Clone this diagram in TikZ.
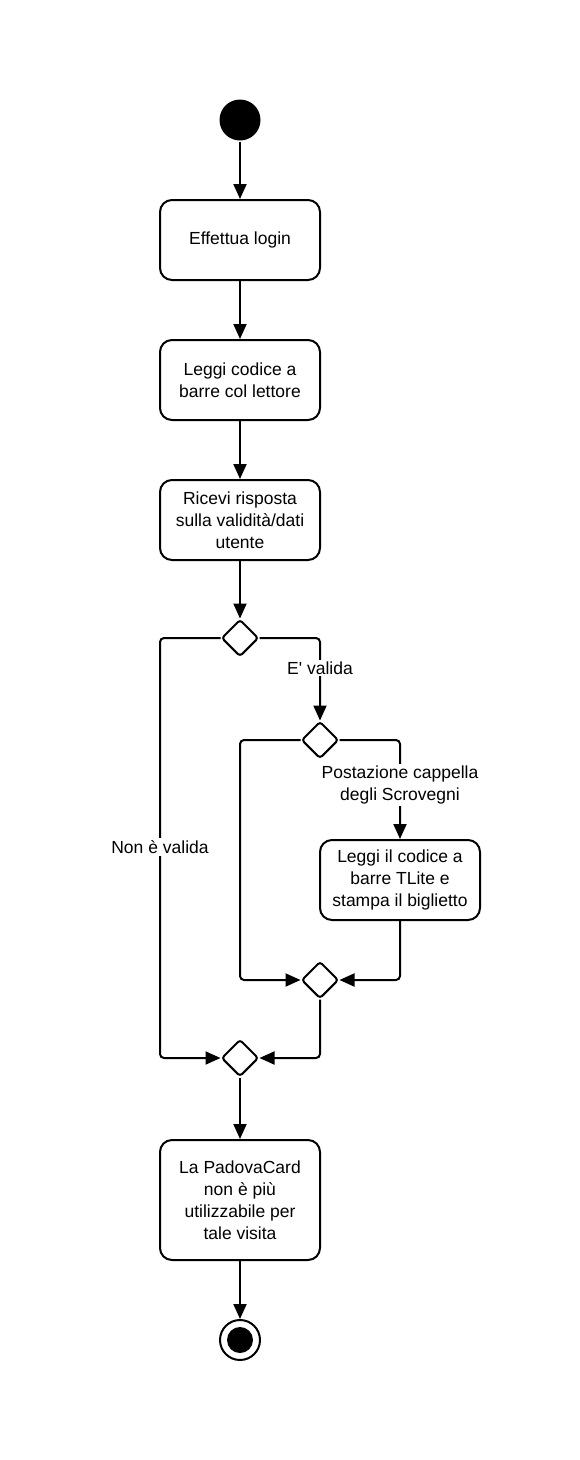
\documentclass[tikz,border=0pt]{standalone}
\usepackage{fontspec}
\setmainfont{Liberation Sans}
\usetikzlibrary{arrows.meta,shapes.geometric}
\begin{document}
\begin{tikzpicture}[x=1pt,y=-1pt,
  line width=2pt,
  every node/.style={font=\fontsize{17.5}{22}\selectfont},
  act/.style={draw,rectangle,rounded corners=12pt,minimum width=160pt,minimum height=80pt,align=center,inner sep=2pt},
  dec/.style={draw,diamond,minimum width=37pt,minimum height=37pt,inner sep=0pt,rounded corners=3pt},
  arr/.style={-{Triangle[length=15pt,width=13pt]},rounded corners=4pt},
  lbl/.style={fill=white,align=center,inner sep=2pt}]
\useasboundingbox (0,0) rectangle (580,1460);
\node[circle,fill=black,minimum size=41pt,inner sep=0pt] (start) at (240,120) {};
\node[act] (b1) at (240,240) {Effettua login};
\node[act] (b2) at (240,380) {Leggi codice a\\barre col lettore};
\node[act] (b3) at (240,520) {Ricevi risposta\\sulla validità/dati\\utente};
\node[dec] (d1) at (240,638) {};
\node[dec] (d2) at (320,740) {};
\node[act] (b4) at (400,880) {Leggi il codice a\\barre TLite e\\stampa il biglietto};
\node[dec] (d3) at (320,980) {};
\node[dec] (d4) at (240,1058) {};
\node[act,minimum height=120pt] (b5) at (240,1200) {La PadovaCard\\non è più\\utilizzabile per\\tale visita};
\node[circle,draw,minimum size=40pt,inner sep=0pt,
  path picture={\fill (path picture bounding box.center) circle (13pt);}] (end) at (240,1340) {};
\coordinate (cL) at (160,850);
\coordinate (cM) at (240,860);
\draw[arr] (start) -- (b1);
\draw[arr] (b1) -- (b2);
\draw[arr] (b2) -- (b3);
\draw[arr] (b3) -- (d1);
\draw[arr] (d1.west) -| (cL) |- (d4.west);
\draw[arr] (d1.east) -| (d2.north);
\draw[arr] (d2.west) -| (cM) |- (d3.west);
\draw[arr] (d2.east) -| (b4.north);
\draw[arr] (b4.south) |- (d3.east);
\draw[arr] (d3.south) |- (d4.east);
\draw[arr] (d4) -- (b5);
\draw[arr] (b5) -- (end);
\node[lbl] (lv) at (320,668) {E\textquotesingle{} valida};
\node[lbl] (lp) at (400,785) {Postazione cappella\\degli Scrovegni};
\node[lbl] (ln) at (160,847) {Non è valida};
\end{tikzpicture}
\end{document}
